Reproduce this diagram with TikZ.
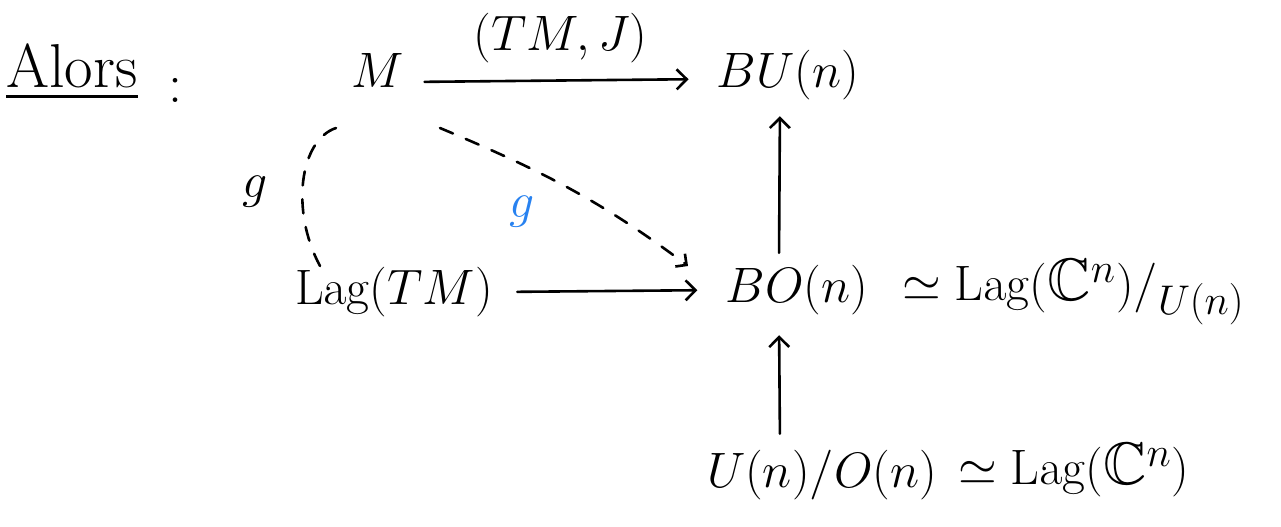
\documentclass[tikz,border=0pt]{standalone}
\usepackage{amssymb}
\usetikzlibrary{arrows.meta}
\definecolor{penblue}{RGB}{40,130,240}
\begin{document}
\begin{tikzpicture}[x=0.5pt,y=-0.5pt,
  lbl/.style={font=\fontsize{28}{32}\selectfont, inner sep=2pt},
  arr/.style={line width=1.3pt, line cap=round, -{Straight Barb[length=5pt,width=10pt]}},
  dasharr/.style={line width=1.3pt, line cap=round, dash pattern=on 7pt off 7pt}]
\useasboundingbox (0,0) rectangle (1281,526);
\node[lbl, font=\fontsize{31}{34}\selectfont] (alors) at (72,72) {\underline{Alors}};
\node[lbl] (colon) at (175,90) {:};
\node[lbl] (M) at (378,70) {$M$};
\node[lbl] (BU) at (788,75) {$BU(n)$};
\node[lbl, font=\fontsize{23}{27}\selectfont] (LTM) at (394,292) {$\mathrm{Lag}(TM)$};
\node[lbl] (BO) at (797,290) {$BO(n)$};
\node[lbl, font=\fontsize{30}{34}\selectfont, anchor=west] (iso1) at (898,292) {$\simeq \mathrm{Lag}(\mathbb{C}^n)/_{U(n)}$};
\node[lbl, font=\fontsize{26}{30}\selectfont] (UO) at (822,475) {$U(n)/O(n)$};
\node[lbl, font=\fontsize{30}{34}\selectfont, anchor=west] (LagC) at (940,470) {$\;\simeq \mathrm{Lag}(\mathbb{C}^n)$};
\node[lbl] (g1) at (255,192) {$g$};
\node[lbl, text=penblue] (g2) at (522,212) {$g$};
\coordinate (s1) at (336,128);
\coordinate (e1) at (320,266);
\coordinate (s2) at (440,128);
\coordinate (e2) at (688,266);

\draw[arr, shorten <=8pt, shorten >=12pt] ([yshift=-6pt]M.east) -- ([yshift=-2pt]BU.west)
  node[lbl, midway, above=6pt] (TMJ) {$(TM,J)$};
\draw[arr, shorten <=4pt, shorten >=6pt] ([xshift=-9pt]BO.north) -- ([xshift=-4pt]BU.south);
\draw[arr, shorten <=10pt, shorten >=12pt] (LTM.east) -- (BO.west);
\draw[arr, shorten <=6pt, shorten >=8pt] ([xshift=-21pt]UO.north) -- ([xshift=-9pt]BO.south);
\draw[dasharr] (s1) .. controls (300,140) and (290,210) .. (e1);
\draw[dasharr, -{Straight Barb[length=4pt,width=8pt]}] (s2) .. controls (540,170) and (600,200) .. (e2);
\end{tikzpicture}
\end{document}
